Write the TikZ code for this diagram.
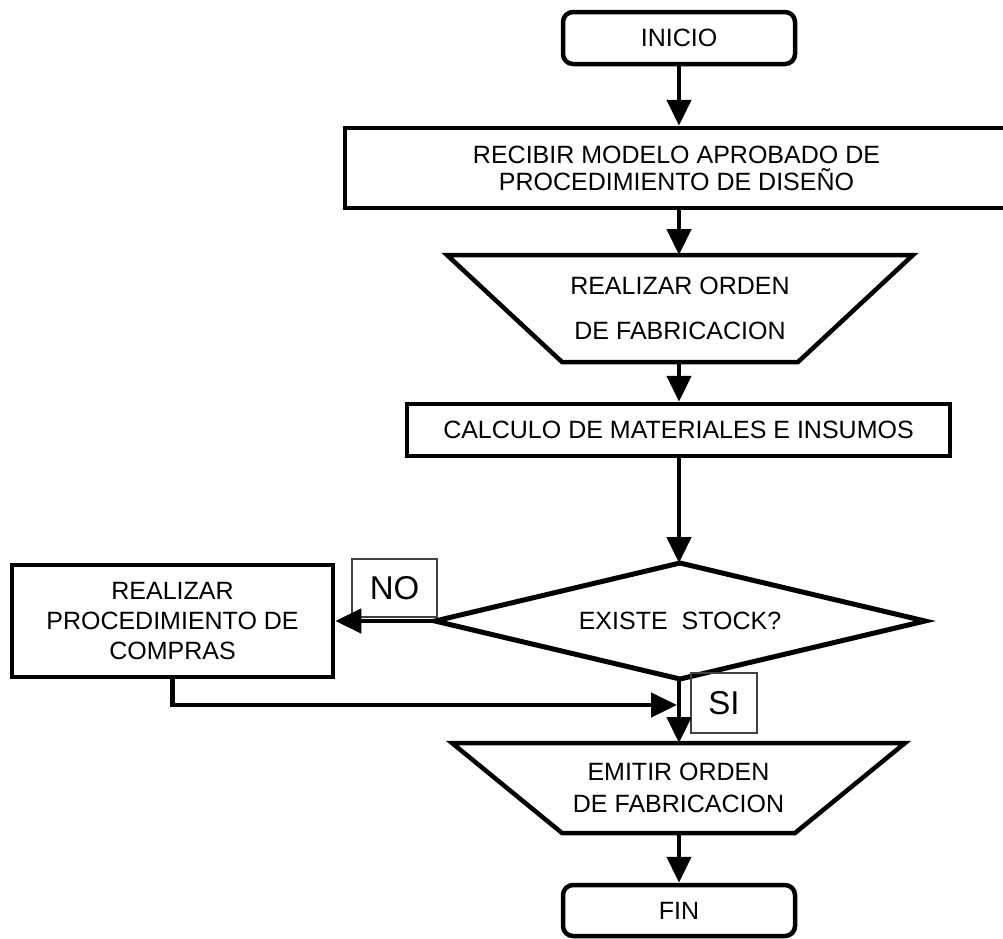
\documentclass[tikz,border=0pt]{standalone}
\usepackage{fontspec}
\setmainfont{Liberation Sans}
\usetikzlibrary{arrows.meta,calc}

\begin{document}
\begin{tikzpicture}[x=1pt,y=-1pt,
  every node/.style={inner sep=0pt, font=\fontsize{25}{30}\selectfont},
  stepbox/.style={draw, line width=4.5pt, rectangle, align=center},
  terminal/.style={stepbox, rounded corners=10pt},
  area/.style={rectangle, outer sep=0pt, align=center},
  tag/.style={draw=black!75, line width=1.5pt, rectangle, font=\fontsize{33}{36}\selectfont},
  outline/.style={line width=4.5pt, line join=miter},
  flow/.style={line width=4.5pt, -{Triangle[length=26pt,width=24pt]}}
]
\useasboundingbox (0,0) rectangle (1003,938);

% start
\node[terminal, minimum width=232pt, minimum height=52pt] (inicio) at (679,38) {INICIO};

% reception of the approved model
\node[stepbox, minimum width=663pt, minimum height=80pt,
      font=\fontsize{25}{27}\selectfont] (recibir) at (676.5,168)
  {RECIBIR MODELO APROBADO DE\\PROCEDIMIENTO DE DISEÑO};

% manual operation: production order
\node[area, minimum width=466pt, minimum height=107pt,
      font=\fontsize{25}{45}\selectfont] (orden) at (680,308.5)
  {REALIZAR ORDEN\\DE FABRICACION};
\draw[outline] (orden.north west) -- (orden.north east)
  -- ([xshift=-115pt]orden.south east) -- ([xshift=115pt]orden.south west) -- cycle;

% materials calculation
\node[stepbox, minimum width=543pt, minimum height=52pt] (calculo) at (678.5,430)
  {CALCULO DE MATERIALES E INSUMOS};

% stock decision
\node[area, minimum width=490pt, minimum height=116pt] (stock) at (680,621)
  {EXISTE\ \ STOCK?};
\draw[line width=5pt, line join=miter] (stock.north) -- (stock.east)
  -- (stock.south) -- (stock.west) -- cycle;

% purchasing procedure
\node[stepbox, minimum width=321pt, minimum height=112pt] (compras) at (172.5,621)
  {REALIZAR\\PROCEDIMIENTO DE\\COMPRAS};

% branch labels
\node[tag, minimum width=85pt, minimum height=58pt] (no) at (394.5,588) {NO};
\node[tag, minimum width=66pt, minimum height=60pt] (si) at (724,703) {SI};

% issue the production order
\node[area, minimum width=453pt, minimum height=90pt,
      font=\fontsize{25}{32}\selectfont] (emitir) at (678.5,788)
  {EMITIR ORDEN\\DE FABRICACION};
\draw[outline] (emitir.north west) -- (emitir.north east)
  -- ([xshift=-110pt]emitir.south east) -- ([xshift=110pt]emitir.south west) -- cycle;

% end
\node[terminal, minimum width=232pt, minimum height=51pt] (fin) at (679,910.5) {FIN};

% junction on the main axis
\coordinate (union) at (677,705);

% connectors
\draw[flow] (inicio.south) -- (inicio.south |- recibir.north);
\draw[flow] (inicio.south |- recibir.south) -- (inicio.south |- orden.north);
\draw[flow] (inicio.south |- orden.south) -- (inicio.south |- calculo.north);
\draw[flow] (inicio.south |- calculo.south) -- (inicio.south |- stock.north);
\draw[flow] (stock.west) -- (compras.east);
\draw[flow] (inicio.south |- stock.south) -- (inicio.south |- emitir.north);
\draw[flow] (compras.south) |- (union);
\draw[flow] (inicio.south |- emitir.south) -- (inicio.south |- fin.north);
\end{tikzpicture}
\end{document}
